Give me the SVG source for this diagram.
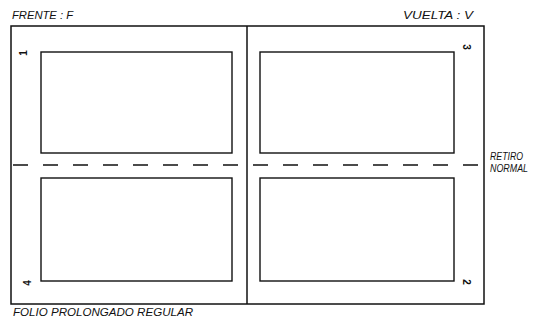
<svg xmlns="http://www.w3.org/2000/svg" width="540" height="328" viewBox="0 0 540 328">
<style>
.f{fill:none;stroke:#111;stroke-width:1.5}
.p{fill:none;stroke:#111;stroke-width:1.4}
.d{fill:none;stroke:#111;stroke-width:1.3;stroke-dasharray:15 15}
.t{font-family:"Liberation Sans",Arial,sans-serif;font-style:italic;font-size:10.5px;fill:#111}
.n{font-family:"Liberation Sans",Arial,sans-serif;font-weight:bold;font-size:10px;fill:#111}
</style>
<rect width="540" height="328" fill="#fff"/>
<g id="sheet">
<rect class="f" x="11" y="26" width="473" height="278"/>
<line class="f" x1="247" y1="26" x2="247" y2="304"/>
</g>
<g id="connectors">
<line class="d" x1="11" y1="165" x2="484" y2="165" stroke-dashoffset="-2"/>
</g>
<g id="page1">
<rect class="p" x="41" y="52" width="191" height="101"/>
<text class="n" transform="translate(27,53) rotate(-90)" text-anchor="middle">1</text>
</g>
<g id="page3">
<rect class="p" x="260" y="52" width="194" height="101"/>
<text class="n" transform="translate(463,47) rotate(90)" text-anchor="middle">3</text>
</g>
<g id="page4">
<rect class="p" x="41" y="178" width="191" height="103"/>
<text class="n" transform="translate(31,283) rotate(-90)" text-anchor="middle">4</text>
</g>
<g id="page2">
<rect class="p" x="260" y="178" width="194" height="103"/>
<text class="n" transform="translate(463,282) rotate(90)" text-anchor="middle">2</text>
</g>
<g id="labels">
<text class="t" x="12" y="19" textLength="61" lengthAdjust="spacingAndGlyphs">FRENTE : F</text>
<text class="t" x="403" y="19" textLength="70" lengthAdjust="spacingAndGlyphs">VUELTA : V</text>
<text class="t" x="490" y="160" style="font-size:11.5px" textLength="33" lengthAdjust="spacingAndGlyphs">RETIRO</text>
<text class="t" x="490" y="172" style="font-size:11.5px" textLength="38" lengthAdjust="spacingAndGlyphs">NORMAL</text>
<text class="t" x="13" y="316" textLength="180" lengthAdjust="spacingAndGlyphs">FOLIO PROLONGADO REGULAR</text>
</g>
</svg>
